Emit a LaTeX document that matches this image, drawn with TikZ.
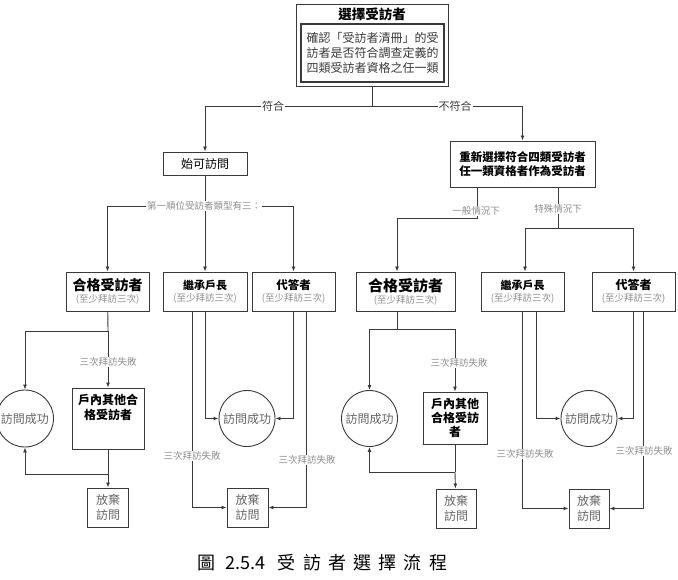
\documentclass[tikz,border=0pt]{standalone}
\usepackage{fontspec}
\setmainfont{Noto Sans CJK TC}
\usetikzlibrary{
	positioning,
	arrows.meta
}
\definecolor{linegray}{HTML}{3A3A3A}
\definecolor{notegray}{HTML}{8E8E8E}
\definecolor{textgray}{HTML}{666666}
\newcommand{\visitnote}{{\color{notegray}\fontsize{9.5}{11}\selectfont (至少拜訪三次)}}
\tikzset{
	box/.style={draw=linegray,line width=0.9pt,rectangle,inner sep=1pt,align=center},
	rowbox/.style={box,minimum height=39pt,minimum width=83pt},
	dropbox/.style={box,minimum width=41pt,minimum height=39pt,text=textgray,font=\fontsize{12}{15}\selectfont},
	okcirc/.style={draw=linegray,line width=0.9pt,circle,minimum size=56pt,inner sep=0pt,text=textgray,font=\fontsize{12}{14}\selectfont},
	note/.style={fill=white,inner sep=1pt,text=notegray,font=\fontsize{9.5}{11}\selectfont},
	branch/.style={fill=white,inner sep=1pt,text=linegray,font=\fontsize{11}{13}\selectfont},
	link/.style={draw=linegray,line width=0.9pt},
	arr/.style={link,-{Latex[length=5pt,width=4pt]}}
}

\begin{document}
\begin{tikzpicture}[x=1pt,y=-1pt]
	\useasboundingbox[fill=white] (0,0) rectangle (678,580);

	\node[box,minimum width=152pt,minimum height=82pt] (sel) at (372,45) {};
	\node[font=\bfseries\fontsize{13.5}{15}\selectfont] (seltitle) at (372,14) {選擇受訪者};
	\node[box,line width=1.3pt,minimum width=143pt,minimum height=58pt,text=linegray,font=\fontsize{12}{15}\selectfont] (selbody) at (372.5,53) {確認「受訪者清冊」的受\\訪者是否符合調查定義的\\四類受訪者資格之任一類};

	\node[box,minimum width=84pt,minimum height=23pt,font=\fontsize{12}{13}\selectfont] (start) at (205,163.5) {始可訪問};
	\node[box,minimum width=145pt,minimum height=46pt,font=\bfseries\fontsize{11.5}{14}\selectfont] (redo) at (522.5,164) {重新選擇符合四類受訪者\\任一類資格者作為受訪者};

	\node[rowbox] (qa) at (107.5,291.5) {{\bfseries\fontsize{14}{16}\selectfont 合格受訪者}\\\visitnote};
	\node[rowbox,minimum width=84pt] (hh) at (205,291.5) {{\bfseries\fontsize{11}{14}\selectfont 繼承戶長}\\\visitnote};
	\node[rowbox] (pr) at (293.5,291.5) {{\bfseries\fontsize{11.5}{14}\selectfont 代答者}\\\visitnote};
	\node[rowbox,minimum width=99pt] (qb) at (405.5,291.5) {{\bfseries\fontsize{15}{17}\selectfont 合格受訪者}\\\visitnote};
	\node[rowbox] (hh2) at (522.5,291.5) {{\bfseries\fontsize{11}{14}\selectfont 繼承戶長}\\\visitnote};
	\node[rowbox] (pr2) at (633.5,291.5) {{\bfseries\fontsize{12}{14}\selectfont 代答者}\\\visitnote};

	\node[okcirc,minimum size=57pt] (ok1) at (25,418.5) {訪問成功};
	\node[box,minimum width=72pt,minimum height=61pt] (oth1) at (108,418.5) {};
	\node[anchor=north,align=center,font=\bfseries\fontsize{12}{15}\selectfont] (oth1txt) at (108,391) {戶內其他合\\格受訪者};
	\node[dropbox] (ab1) at (108,507.5) {放棄\\訪問};
	\node[okcirc] (ok2) at (247,418.5) {訪問成功};
	\node[dropbox] (ab2) at (247.5,507.5) {放棄\\訪問};
	\node[okcirc] (ok3) at (369.5,418.5) {訪問成功};
	\node[box,minimum width=64pt,minimum height=52pt,font=\bfseries\fontsize{12}{14}\selectfont] (oth2) at (455,418) {戶內其他\\合格受訪\\者};
	\node[dropbox,minimum width=40pt] (ab3) at (456,508.5) {放棄\\訪問};
	\node[okcirc] (ok4) at (589,418.5) {訪問成功};
	\node[dropbox,minimum width=40pt] (ab4) at (589,508.5) {放棄\\訪問};

	\coordinate (j0) at (372,106);
	\coordinate (j1) at (205,206);
	\coordinate (j2) at (108,331);
	\coordinate (j3) at (108,474);
	\coordinate (j4) at (397,329);
	\coordinate (j5) at (455,472);
	\coordinate (j6) at (397,218);
	\coordinate (j7) at (558,228);

	\draw[link] (sel) -- (j0);
	\draw[arr] (j0) -| (start);
	\draw[arr] (j0) -| (redo);

	\draw[link] (start) -- (j1);
	\draw[arr] (j1) -| (qa);
	\draw[arr] (j1) -- (hh);
	\draw[arr] (j1) -| (pr);

	\draw[arr] ([xshift=-45.5pt]redo.south) |- (j6) -- (j6 |- qb.north);
	\draw[link] ([xshift=35.5pt]redo.south) -- (j7);
	\draw[arr] (j7) -| ([xshift=2.5pt]hh2.north);
	\draw[arr] (j7) -| (pr2);

	\draw[link] (qa) -- (j2);
	\draw[arr] (j2) -| (ok1);
	\draw[arr] (j2) -- (oth1);
	\draw[link] (oth1) -- (j3);
	\draw[arr] (j3) -| (ok1);
	\draw[arr] (j3) -- (ab1);

	\draw[arr] (hh.south) |- (ok2);
	\draw[arr] ([xshift=-13pt]hh.south) |- (ab2);
	\draw[arr] (pr.south) |- (ok2);
	\draw[arr] ([xshift=13pt]pr.south) |- (ab2);

	\draw[link] ([xshift=-8.5pt]qb.south) -- (j4);
	\draw[arr] (j4) -| (ok3);
	\draw[arr] (j4) -| (oth2);
	\draw[link] (oth2) -- (j5);
	\draw[arr] (j5) -| (ok3);
	\draw[arr] (j5) -- (ab3);

	\draw[arr] ([xshift=13.5pt]hh2.south) |- (ok4);
	\draw[arr] (hh2.south) |- (ab4);
	\draw[arr] (pr2.south) |- (ok4);
	\draw[arr] ([xshift=10pt]pr2.south) |- (ab4);

	\node[branch] (yes) at (273,106) {符合};
	\node[branch] (no) at (455,106) {不符合};
	\node[note] (three) at (204,206) {第一順位受訪者類型有三：};
	\node[note] (usual) at (476,211) {一般情況下};
	\node[note] (special) at (558,209) {特殊情況下};
	\node[note] (fail1) at (108,362) {三次拜訪失敗};
	\node[note] (fail2) at (192,456) {三次拜訪失敗};
	\node[note] (fail3) at (307,460) {三次拜訪失敗};
	\node[note] (fail4) at (459,363) {三次拜訪失敗};
	\node[note] (fail5) at (525,454) {三次拜訪失敗};
	\node[note] (fail6) at (644,451) {三次拜訪失敗};

	\node[font=\fontsize{18}{20}\selectfont] (caption) at (322.5,563) {圖\hspace{10pt}2.5.4\hspace{12pt}{\addfontfeatures{LetterSpace=40}受訪者選擇流程}};

\end{tikzpicture}
\end{document}
